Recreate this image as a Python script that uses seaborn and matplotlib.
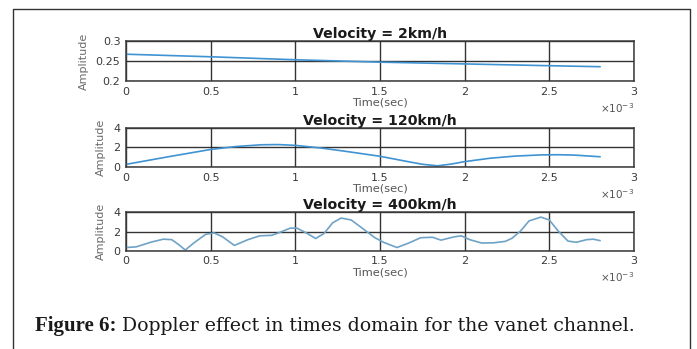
import numpy as np
import pandas as pd
import matplotlib
matplotlib.use("Agg")
import matplotlib.pyplot as plt
from matplotlib.lines import Line2D
from matplotlib.ticker import FuncFormatter, MultipleLocator
import seaborn as sns

# Time samples in milliseconds (plotted in seconds)
t_2kmh_ms = [0.0, 0.5, 1.0, 1.5, 2.0, 2.5, 2.8]
amp_2kmh = [0.2675, 0.2610, 0.2535, 0.2475, 0.2430, 0.2385, 0.2360]

t_120kmh_ms = [0.0, 0.25, 0.5, 0.65, 0.8, 0.9, 1.0, 1.15, 1.3, 1.5, 1.65, 1.75,
               1.84, 1.92, 2.0, 2.15, 2.3, 2.45, 2.55, 2.65, 2.8]
amp_120kmh = [0.27, 1.05, 1.80, 2.10, 2.28, 2.30, 2.22, 1.95, 1.60, 1.10, 0.60, 0.28,
              0.12, 0.30, 0.55, 0.90, 1.12, 1.24, 1.26, 1.22, 1.05]

t_400kmh_ms = [0.0, 0.06, 0.15, 0.22, 0.27, 0.31, 0.35, 0.40, 0.47, 0.52, 0.57, 0.64,
               0.72, 0.79, 0.86, 0.90, 0.97, 1.01, 1.07, 1.12, 1.17, 1.22, 1.27,
               1.33, 1.40, 1.47, 1.52, 1.60, 1.67, 1.74, 1.81, 1.86, 1.94, 1.98,
               2.03, 2.10, 2.17, 2.24, 2.28, 2.33, 2.38, 2.45, 2.50, 2.55, 2.61,
               2.66, 2.72, 2.76, 2.80]
amp_400kmh = [0.33, 0.40, 0.90, 1.20, 1.15, 0.65, 0.07, 0.80, 1.70, 1.85, 1.45, 0.55,
              1.15, 1.55, 1.60, 1.85, 2.35, 2.35, 1.80, 1.27, 1.80, 2.90, 3.40,
              3.20, 2.28, 1.35, 0.88, 0.33, 0.80, 1.35, 1.40, 1.10, 1.45, 1.55,
              1.15, 0.80, 0.82, 0.97, 1.30, 2.05, 3.10, 3.50, 3.20, 2.10, 1.00,
              0.88, 1.15, 1.20, 1.05]

titles = ["Velocity = 2km/h", "Velocity = 120km/h", "Velocity = 400km/h"]
ylims = [(0.2, 0.3), (0, 4), (0, 4)]
yticks = [[0.2, 0.25, 0.3], [0, 2, 4], [0, 2, 4]]
line_colors = ["#3f93d2", "#3f93d2", "#6fa3c6"]

sns.set_theme(style="white")
plt.rcParams["font.family"] = ["DejaVu Sans"]

fig = plt.figure(figsize=(6.97, 3.49), dpi=100)
W, H = 697, 349

# axes boxes in pixels: left, right, top, bottom
boxes = [(126, 634, 41.3, 81.0), (126, 634, 128.0, 167.0), (126, 634, 212.3, 250.7)]

series = [(t_2kmh_ms, amp_2kmh), (t_120kmh_ms, amp_120kmh), (t_400kmh_ms, amp_400kmh)]

for i, ((l, r, tp, bt), (tms, amp)) in enumerate(zip(boxes, series)):
    ax = fig.add_axes([l / W, 1 - bt / H, (r - l) / W, (bt - tp) / H])
    df = pd.DataFrame({"t": np.array(tms) * 1e-3, "a": amp})
    sns.lineplot(data=df, x="t", y="a", ax=ax, color=line_colors[i], lw=1.2)
    ax.set_xlim(0, 3e-3)
    ax.set_ylim(*ylims[i])
    ax.xaxis.set_major_locator(MultipleLocator(0.5e-3))
    ax.xaxis.set_major_formatter(FuncFormatter(lambda v, p: f"{v * 1e3:g}"))
    ax.set_yticks(yticks[i])
    ax.yaxis.set_major_formatter(FuncFormatter(lambda v, p: f"{v:g}"))
    ax.grid(True, color="#1e1e1e", lw=1.0, alpha=0.9)
    for s in ax.spines.values():
        s.set_color("#3a3a3a")
        s.set_linewidth(1.1)
    ax.tick_params(axis="both", direction="in", length=2, width=0.6,
                   labelsize=8, labelcolor="#3a3a3a", pad=4, colors="#3a3a3a")
    ax.set_title(titles[i], fontsize=10.2, fontweight="bold", color="#1a1a1a", pad=2.5)
    ax.set_xlabel("Time(sec)", fontsize=8.2, color="#555555", labelpad=1)
    ax.set_ylabel("Amplitude", fontsize=8, color="#6a6a6a", labelpad=5)
    ax.text(1.0, -0.52, r"$\times10^{-3}$", transform=ax.transAxes, ha="right",
            va="top", fontsize=7.5, color="#555555")

# outer frame (left, top, right)
def px(x, y):
    return x / W, 1 - y / H

frame_pts = [px(12.5, 349), px(12.5, 8.5), px(689.5, 8.5), px(689.5, 349)]
fig.add_artist(Line2D([p[0] for p in frame_pts], [p[1] for p in frame_pts],
                      transform=fig.transFigure, color="#333333", lw=1.0))

# caption
cap_x, cap_y = px(35, 326)
t1 = fig.text(cap_x, cap_y, "Figure 6:", fontsize=15, fontweight="bold",
              family="Liberation Serif", color="#1a1a1a", va="center", ha="left")
fig.canvas.draw()
bb = t1.get_window_extent(renderer=fig.canvas.get_renderer())
fig.text((bb.x1 + 5) / W, cap_y, "Doppler effect in times domain for the vanet channel.",
         fontsize=13.6, family="DejaVu Serif", color="#1a1a1a", va="center", ha="left")

fig.savefig("out.png", dpi=100)
